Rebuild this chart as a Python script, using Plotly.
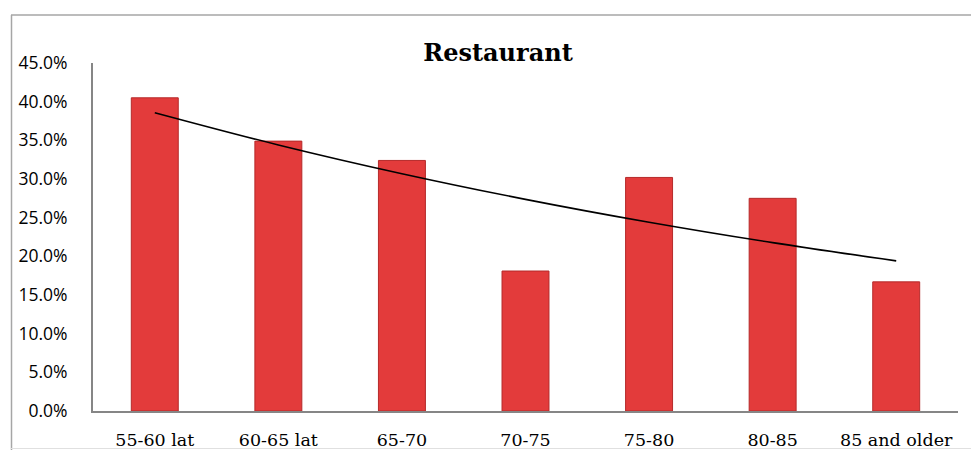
import numpy as np
import plotly.graph_objects as go

categories = ["55-60 lat", "60-65 lat", "65-70", "70-75", "75-80", "80-85", "85 and older"]
values = [40.5, 34.9, 32.4, 18.1, 30.2, 27.5, 16.7]
y_ticks = [0, 5, 10, 15, 20, 25, 30, 35, 40, 45]
y_tick_labels = ["0.0%", "5.0%", "10.0%", "15.0%", "20.0%", "25.0%", "30.0%", "35.0%", "40.0%", "45.0%"]
title_text = "Restaurant"

idx = np.arange(len(categories))
# exponential trendline fitted to the data
b, a = np.polyfit(idx, np.log(values), 1)
trend = np.exp(a + b * idx)

fig = go.Figure()
fig.add_trace(go.Bar(
    x=idx, y=values, width=0.38,
    marker=dict(color="#E33B3B", line=dict(color="#B52A2A", width=1)),
    showlegend=False,
))
fig.add_trace(go.Scatter(
    x=idx, y=trend, mode="lines", line=dict(color="black", width=1.6, shape="spline"),
    showlegend=False,
))

# plot-area geometry (pixels) for border placement
L, R, T, B = 93, 13, 63, 39
W, H = 971, 450
pw, ph = W - L - R, H - T - B
def px(x):
    return (x - L) / pw
def py(y):
    return (H - B - y) / ph

fig.update_layout(
    width=W, height=H,
    margin=dict(l=L, r=R, t=T, b=B, autoexpand=False),
    paper_bgcolor="white", plot_bgcolor="white",
    title=dict(text="<b>" + title_text + "</b>", x=px(498), xref="paper", xanchor="center",
               y=1 - 53 / H, yanchor="middle",
               font=dict(family="DejaVu Serif", size=24, color="black")),
    xaxis=dict(range=[-0.5, 6.5], tickvals=list(idx), ticktext=categories, automargin=False,
               showline=True, linecolor="#868686", linewidth=2, showgrid=False, zeroline=False,
               ticks="", ticklabelstandoff=12,
               tickfont=dict(family="DejaVu Serif", size=17.5, color="black")),
    yaxis=dict(range=[0, 45], tickvals=y_ticks, ticktext=y_tick_labels, automargin=False,
               showline=True, linecolor="#868686", linewidth=2, showgrid=False, zeroline=False,
               ticks="", ticklabelstandoff=20,
               tickfont=dict(family="Open Sans", size=17.5, color="black")),
    shapes=[
        dict(type="line", xref="paper", yref="paper", x0=px(11), x1=px(971), y0=py(15), y1=py(15),
             line=dict(color="#A6A6A6", width=1.5)),
        dict(type="line", xref="paper", yref="paper", x0=px(11.5), x1=px(11.5), y0=py(15), y1=py(450),
             line=dict(color="#A6A6A6", width=1.5)),
        dict(type="line", xref="paper", yref="paper", x0=px(11), x1=px(971), y0=py(448.5), y1=py(448.5),
             line=dict(color="#E0E0E0", width=1)),
    ],
)

fig.write_html("out.html")
